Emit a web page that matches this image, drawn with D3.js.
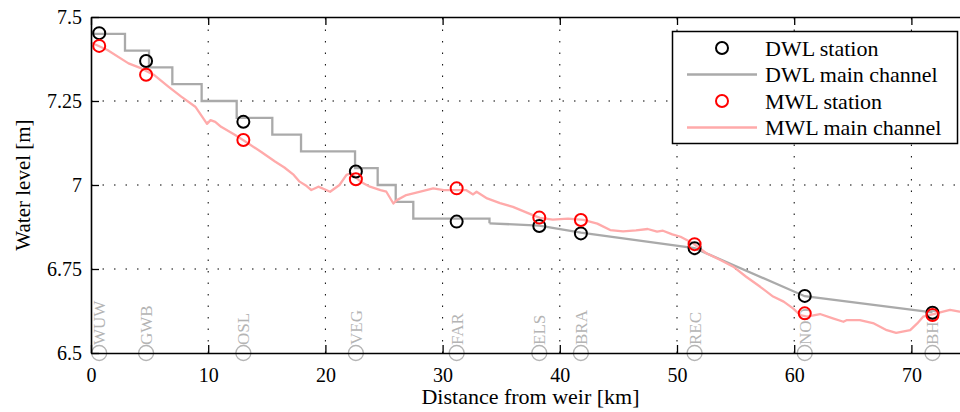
<!DOCTYPE html>
<html>
<head>
<meta charset="utf-8">
<script src="https://cdn.jsdelivr.net/npm/d3@7/dist/d3.min.js"></script>
<style>
  html, body { margin: 0; padding: 0; background: #fff; }
  svg { display: block; font-family: "Liberation Serif", "Times New Roman", serif; }
</style>
</head>
<body>
<svg id="chart" width="960" height="412"></svg>
<script>
// stations along the river (km from weir)
const stationNames = ['WUW', 'GWB', 'OSL', 'VEG', 'FAR', 'ELS', 'BRA', 'REC', 'NOO', 'BHO'];
const stationKm = [0.7, 4.7, 13.0, 22.6, 31.2, 38.25, 41.8, 51.5, 60.9, 71.8];
const dwlStation = [7.452, 7.369, 7.188, 7.040, 6.891, 6.878, 6.856, 6.812, 6.670, 6.620];
const mwlStation = [7.414, 7.328, 7.134, 7.017, 6.990, 6.903, 6.896, 6.824, 6.618, 6.613];

// DWL main channel: stepped part then linear part
const dwlSteps = [
  [0, 7.45], [2.9, 7.40], [4.95, 7.35], [6.94, 7.30], [9.44, 7.25], [12.43, 7.20],
  [15.47, 7.15], [17.92, 7.10], [22.53, 7.05], [24.46, 7.00], [26.0, 6.95],
  [27.5, 6.90], [34.0, 6.886]
];
const dwlLinear = [
  [34.0, 6.886], [38.25, 6.879], [41.8, 6.858], [51.5, 6.812], [60.9, 6.669], [71.8, 6.621]
];

// MWL main channel profile
const mwlProfile = [
  [0, 7.424], [1.4, 7.402], [3.2, 7.362], [4.3, 7.347], [5.4, 7.327], [6.6, 7.293],
  [7.7, 7.263], [8.9, 7.233], [9.9, 7.182], [10.2, 7.193], [10.6, 7.188], [11.1, 7.173],
  [12.3, 7.149], [13.4, 7.124], [14.5, 7.099], [15.7, 7.07], [16.5, 7.052], [17.3, 7.03],
  [17.8, 7.01], [18.4, 6.997], [18.8, 6.985], [19.4, 6.995], [20.4, 6.98], [21.2, 7.0],
  [21.8, 7.03], [22.2, 7.035], [23.0, 7.01], [23.8, 6.995], [24.7, 6.985], [25.2, 6.98],
  [25.8, 6.945], [26.1, 6.955], [26.9, 6.97], [28.1, 6.98], [29.2, 6.99], [30.1, 6.985],
  [31.2, 6.985], [32.0, 6.985], [32.6, 6.972], [32.9, 6.98], [33.8, 6.96], [34.9, 6.946],
  [36.0, 6.935], [37.6, 6.912], [38.3, 6.902], [39.4, 6.897], [40.7, 6.9], [42.0, 6.896],
  [43.2, 6.885], [44.3, 6.866], [45.4, 6.862], [46.5, 6.865], [47.5, 6.869], [48.3, 6.861],
  [48.8, 6.864], [49.6, 6.853], [50.3, 6.846], [51.4, 6.826], [52.5, 6.797], [53.7, 6.777],
  [54.8, 6.757], [55.9, 6.727], [57.1, 6.697], [58.2, 6.668], [59.1, 6.653], [59.9, 6.633],
  [60.5, 6.613], [61.1, 6.608], [62.2, 6.616], [63.3, 6.603], [64.2, 6.593], [64.5, 6.598],
  [65.6, 6.598], [66.8, 6.588], [67.9, 6.568], [68.7, 6.56], [69.9, 6.568], [70.5, 6.588],
  [71.0, 6.608], [71.9, 6.616], [72.7, 6.623], [73.3, 6.628], [74.1, 6.623], [75, 6.625]
];

const xTicks = [0, 10, 20, 30, 40, 50, 60, 70];
const yTicks = [6.5, 6.75, 7, 7.25, 7.5];
const legendItems = [
  { label: 'DWL station', type: 'marker', color: '#000' },
  { label: 'DWL main channel', type: 'line', color: '#aaaaaa' },
  { label: 'MWL station', type: 'marker', color: '#ff0000' },
  { label: 'MWL main channel', type: 'line', color: '#ffaaaa' }
];

const plotLeft = 91, plotRight = 970, plotTop = 17, plotBottom = 353;

const svg = d3.select('#chart');
const x = d3.scaleLinear().domain([0, 75]).range([plotLeft, plotRight]);
const y = d3.scaleLinear().domain([6.5, 7.5]).range([plotBottom, plotTop]);

// Grid
const grid = svg.append('g')
  .attr('stroke', '#000')
  .attr('stroke-width', 1)
  .attr('stroke-dasharray', '1.5,10');
grid.selectAll('line.v')
  .data(xTicks.slice(1))
  .join('line')
  .attr('class', 'v')
  .attr('x1', d => x(d)).attr('x2', d => x(d))
  .attr('y1', plotBottom).attr('y2', plotTop);
grid.selectAll('line.h')
  .data(yTicks.slice(1, -1))
  .join('line')
  .attr('class', 'h')
  .attr('x1', plotLeft).attr('x2', plotRight)
  .attr('y1', d => y(d)).attr('y2', d => y(d));

// Station name labels at the bottom
const lbl = svg.append('g').attr('fill', 'none').attr('stroke', '#b4b4b4');
lbl.selectAll('circle')
  .data(stationKm)
  .join('circle')
  .attr('cx', d => x(d))
  .attr('cy', y(6.5))
  .attr('r', 7.5)
  .attr('stroke-width', 1.3);
svg.append('g')
  .selectAll('text')
  .data(stationNames)
  .join('text')
  .attr('transform', (d, i) => `translate(${x(stationKm[i]) + 6},${y(6.5) - 8}) rotate(-90)`)
  .attr('font-size', 17)
  .attr('fill', '#b4b4b4')
  .text(d => d);

// Lines
svg.append('path')
  .datum(dwlSteps)
  .attr('fill', 'none')
  .attr('stroke', '#aaaaaa')
  .attr('stroke-width', 2.3)
  .attr('d', d3.line().x(d => x(d[0])).y(d => y(d[1])).curve(d3.curveStepAfter));
svg.append('path')
  .datum(dwlLinear)
  .attr('fill', 'none')
  .attr('stroke', '#aaaaaa')
  .attr('stroke-width', 2.3)
  .attr('d', d3.line().x(d => x(d[0])).y(d => y(d[1])));
svg.append('path')
  .datum(mwlProfile)
  .attr('fill', 'none')
  .attr('stroke', '#ffaaaa')
  .attr('stroke-width', 2.3)
  .attr('stroke-linejoin', 'round')
  .attr('d', d3.line().x(d => x(d[0])).y(d => y(d[1])));

// Station markers
svg.append('g')
  .selectAll('circle')
  .data(dwlStation)
  .join('circle')
  .attr('cx', (d, i) => x(stationKm[i]))
  .attr('cy', d => y(d))
  .attr('r', 6)
  .attr('fill', 'none')
  .attr('stroke', '#000')
  .attr('stroke-width', 2);
svg.append('g')
  .selectAll('circle')
  .data(mwlStation)
  .join('circle')
  .attr('cx', (d, i) => x(stationKm[i]))
  .attr('cy', d => y(d))
  .attr('r', 6)
  .attr('fill', 'none')
  .attr('stroke', '#ff0000')
  .attr('stroke-width', 2);

// Axes (inward ticks, box)
const styleAxis = g => {
  g.selectAll('path.domain').attr('stroke', '#000').attr('stroke-width', 1.6);
  g.selectAll('.tick line').attr('stroke', '#000').attr('stroke-width', 1.3);
  g.selectAll('.tick text').attr('fill', '#000').attr('font-size', 20)
    .attr('font-family', '"Liberation Serif", "Times New Roman", serif');
};
svg.append('g')
  .attr('transform', `translate(0,${plotBottom})`)
  .call(d3.axisBottom(x).tickValues(xTicks).tickSize(-8).tickSizeOuter(0).tickPadding(15).tickFormat(d3.format('d')))
  .call(styleAxis);
svg.append('g')
  .attr('transform', `translate(0,${plotTop})`)
  .call(d3.axisTop(x).tickValues(xTicks).tickSize(-8).tickSizeOuter(0).tickFormat(''))
  .call(styleAxis);
svg.append('g')
  .attr('transform', `translate(${plotLeft},0)`)
  .call(d3.axisLeft(y).tickValues(yTicks).tickSize(-8).tickSizeOuter(0).tickPadding(9).tickFormat(d3.format('')))
  .call(styleAxis);

// Axis titles
svg.append('text')
  .attr('x', (plotLeft + plotRight) / 2)
  .attr('y', 404)
  .attr('text-anchor', 'middle')
  .attr('font-size', 22)
  .text('Distance from weir [km]');
svg.append('text')
  .attr('transform', `translate(30,${(plotTop + plotBottom) / 2}) rotate(-90)`)
  .attr('text-anchor', 'middle')
  .attr('font-size', 21)
  .text('Water level [m]');

// Legend
const legend = svg.append('g');
legend.append('rect')
  .attr('x', 672.5).attr('y', 31.5)
  .attr('width', 285).attr('height', 112)
  .attr('fill', '#fff')
  .attr('stroke', '#000')
  .attr('stroke-width', 1.5);
const rowY = d3.scalePoint().domain(legendItems.map(d => d.label)).range([48, 127.5]);
const rows = legend.selectAll('g.row')
  .data(legendItems)
  .join('g')
  .attr('class', 'row')
  .attr('transform', d => `translate(0,${rowY(d.label)})`);
rows.filter(d => d.type === 'marker')
  .append('circle')
  .attr('cx', 722).attr('cy', 0).attr('r', 6)
  .attr('fill', 'none')
  .attr('stroke', d => d.color)
  .attr('stroke-width', 2);
rows.filter(d => d.type === 'line')
  .append('line')
  .attr('x1', 687).attr('x2', 757)
  .attr('stroke', d => d.color)
  .attr('stroke-width', 2.3);
rows.append('text')
  .attr('x', 765)
  .attr('dy', '0.35em')
  .attr('font-size', 22)
  .text(d => d.label);
</script>
</body>
</html>
